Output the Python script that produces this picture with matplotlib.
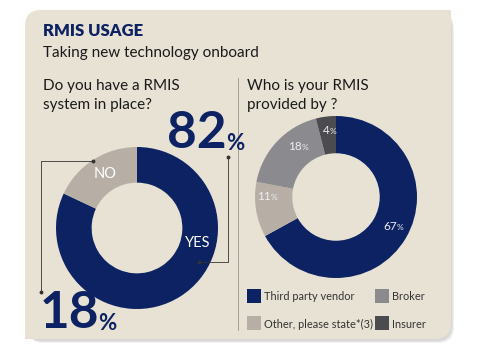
import matplotlib
matplotlib.use("Agg")
import matplotlib.pyplot as plt
from matplotlib.patches import FancyBboxPatch, Rectangle

plt.rcParams['font.family'] = ['Lato', 'DejaVu Sans']

# data
have_labels = ['YES', 'NO']
have_values = [82, 18]
prov_labels = ['Third party vendor', 'Other, please state*(3)', 'Broker', 'Insurer']
prov_values = [67, 11, 18, 4]

navy = '#0c2262'
light = '#b7afa6'
broker = '#8b8b8f'
insurer = '#4b4b50'
bg = '#e8e2d5'
have_colors = [navy, light]
prov_colors = [navy, light, broker, insurer]

W, H = 480, 355
fig = plt.figure(figsize=(4.8, 3.55), dpi=100)
ax = fig.add_axes([0, 0, 1, 1])


def Y(y):
    # image y (top-down) to axes y
    return H - y


# shadow + card
for i, a in enumerate([0.05, 0.05, 0.06]):
    ax.add_patch(FancyBboxPatch((26 + i, Y(341) - i), 426, 330, boxstyle='round,pad=0,rounding_size=16',
                                fc='black', ec='none', alpha=a, zorder=0))
ax.add_patch(FancyBboxPatch((25, Y(339)), 426, 329, boxstyle='round,pad=0,rounding_size=16',
                            fc=bg, ec='none', zorder=1))
ax.add_patch(Rectangle((421, Y(40)), 30, 30, fc=bg, ec='none', zorder=1))
ax.add_patch(Rectangle((25, Y(339)), 30, 30, fc=bg, ec='none', zorder=1))

# headings
ax.text(43, Y(31), 'RMIS USAGE', fontsize=12, fontweight='heavy', color=navy, va='center', zorder=3)
ax.text(43, Y(53), 'Taking new technology onboard', fontsize=11, color='#1a1a1a', va='center', zorder=3)
ax.text(43, Y(86), 'Do you have a RMIS', fontsize=11, color='#1a1a1a', va='center', zorder=3)
ax.text(43, Y(105), 'system in place?', fontsize=11, color='#1a1a1a', va='center', zorder=3)
ax.text(247, Y(86), 'Who is your RMIS', fontsize=11, color='#1a1a1a', va='center', zorder=3)
ax.text(247, Y(105), 'provided by ?', fontsize=11, color='#1a1a1a', va='center', zorder=3)
ax.plot([238, 238], [Y(78), Y(330)], color='#9a958c', lw=0.6, zorder=2)

# left donut
c1 = (137, Y(228))
r1 = 81
ax.pie(have_values, colors=have_colors, startangle=90, counterclock=False, center=c1, radius=r1,
       wedgeprops=dict(width=r1 * 0.44, edgecolor='none', zorder=2), frame=True)
ax.text(105, Y(174), have_labels[1], fontsize=10.5, color='white', ha='center', va='center', zorder=3)
ax.text(198, Y(243), have_labels[0], fontsize=10.5, color='white', ha='center', va='center', zorder=3)

# brackets
ax.plot([199, 228, 228], [Y(262), Y(262), Y(157)], color='#333333', lw=0.6, zorder=3)
ax.plot([93, 41, 41], [Y(161), Y(161), Y(292)], color='#333333', lw=0.6, zorder=3)
for x, y in [(199, 262), (228, 157), (93, 161), (41, 292)]:
    ax.plot(x, Y(y), 'o', ms=1.8, color='#333333', zorder=3)

# big percentages
ax.text(167, Y(134), str(have_values[0]), fontsize=37, fontweight='bold', color=navy, va='center', zorder=4)
ax.text(226, Y(143), '%', fontsize=16, fontweight='bold', color=navy, va='center', zorder=4)
ax.text(40, Y(314), str(have_values[1]), fontsize=37, fontweight='bold', color=navy, va='center', zorder=4)
ax.text(98, Y(323), '%', fontsize=16, fontweight='bold', color=navy, va='center', zorder=4)

# right donut
c2 = (336, Y(197))
r2 = 81
ax.pie(prov_values, colors=prov_colors, startangle=90, counterclock=False, center=c2, radius=r2,
       wedgeprops=dict(width=r2 * 0.46, edgecolor='none', zorder=2), frame=True)
pos = [(397, 227), (271, 197), (302, 147), (330, 131)]
for v, (x, y) in zip(prov_values, pos):
    ax.text(x, Y(y), str(v), fontsize=8.5, color='#eeeef4', ha='right', va='center', zorder=3)
    ax.text(x - 0.5, Y(y + 1), '%', fontsize=6, color='#eeeef4', ha='left', va='center', zorder=3)

# legend
leg = [(247, 296, 0), (375, 296, 2), (247, 323, 1), (375, 323, 3)]
for x, y, i in leg:
    ax.add_patch(Rectangle((x, Y(y + 7)), 14, 14, fc=prov_colors[i], ec='none', zorder=3))
    ax.text(x + 17, Y(y + 1), prov_labels[i], fontsize=7.9, color='#333333', va='center', zorder=3)

ax.set_xlim(0, W)
ax.set_ylim(0, H)
ax.set_aspect('auto')
ax.axis('off')
fig.savefig('out.png', dpi=100, facecolor='white')
